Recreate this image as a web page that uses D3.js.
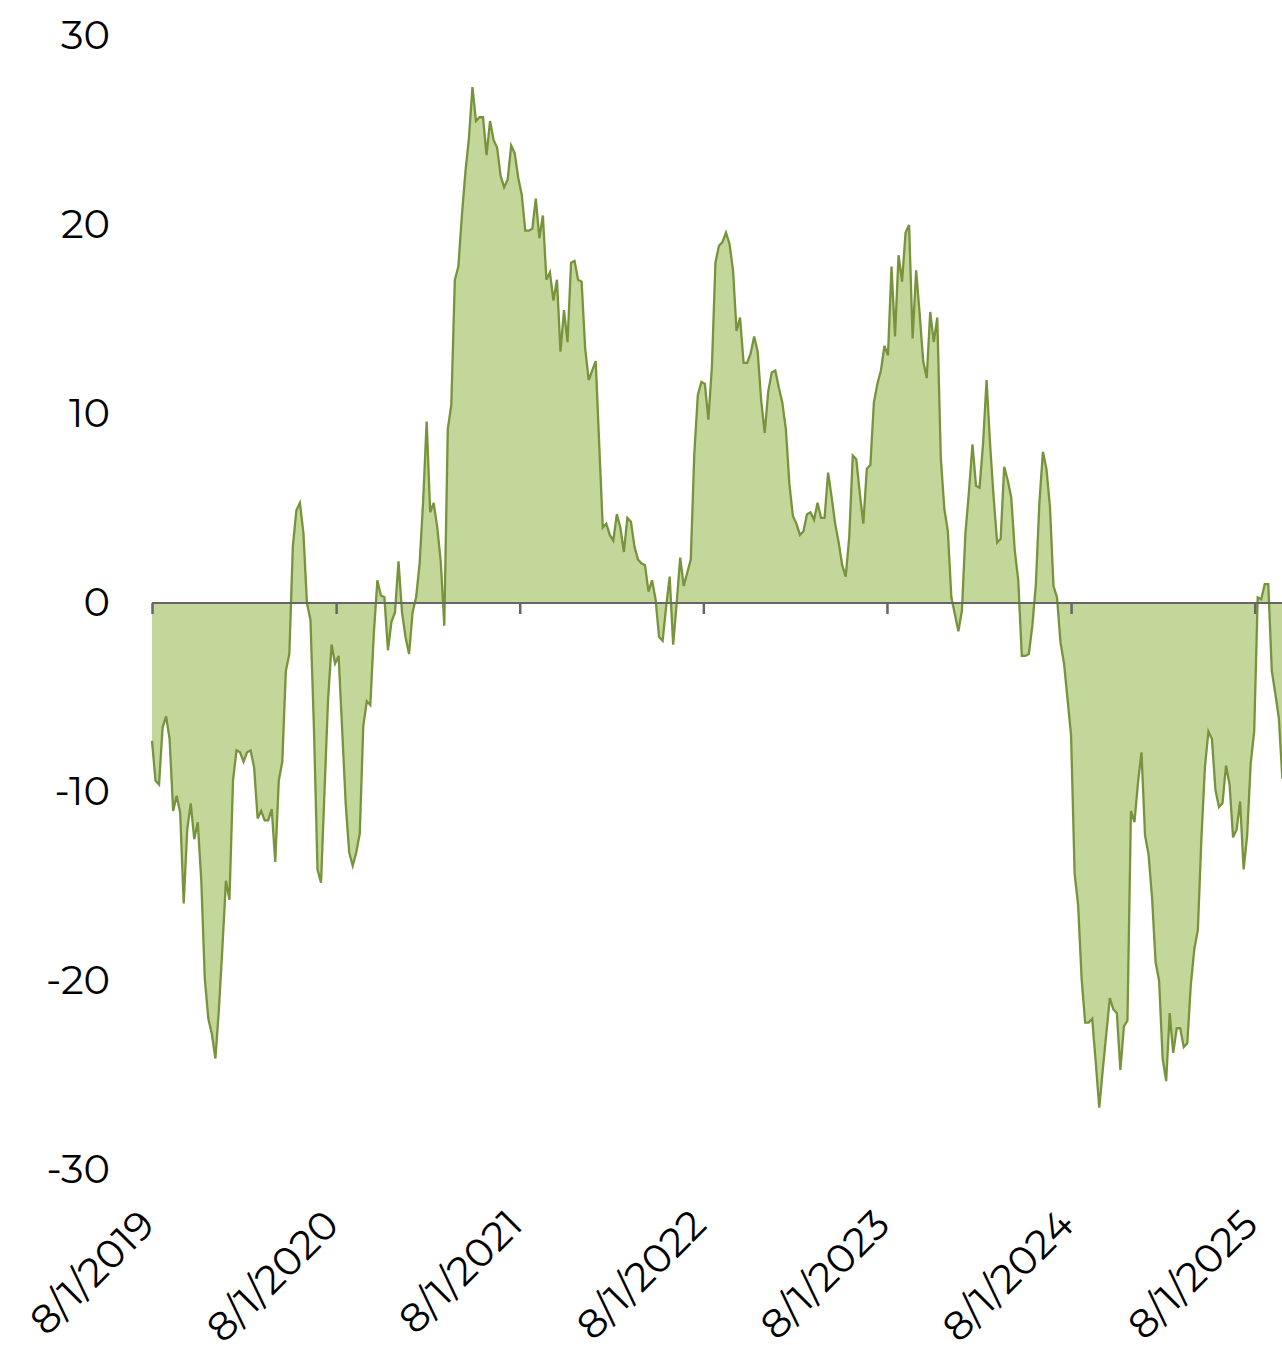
<!DOCTYPE html>
<html>
<head>
<meta charset="utf-8">
<script src="https://cdn.jsdelivr.net/npm/d3@7"></script>
<style>
  body { margin: 0; background: #fff; }
  svg { display: block; font-family: Montserrat, "Noto Sans", sans-serif; }
</style>
</head>
<body>
<svg id="chart" width="1282" height="1345"></svg>
<script>
// weekly series, first week starts 8/1/2019
const startDate = "2019-08-01";
const values = [
  -7.3, -9.4, -9.6, -6.6, -6.0, -7.2, -11.0, -10.2, -11.1, -15.9,
  -12.0, -10.6, -12.5, -11.6, -14.7, -19.9, -22.0, -22.8, -24.1, -21.5,
  -18.2, -14.7, -15.7, -9.4, -7.8, -7.9, -8.4, -7.9, -7.8, -8.7,
  -11.4, -11.0, -11.5, -11.5, -10.9, -13.7, -9.4, -8.4, -3.6, -2.7,
  3.0, 4.9, 5.3, 3.7, 0.0, -0.9, -6.7, -14.1, -14.8, -9.9,
  -5.1, -2.2, -3.2, -2.8, -6.7, -10.6, -13.2, -13.9, -13.2, -12.2,
  -6.5, -5.2, -5.4, -1.6, 1.2, 0.4, 0.3, -2.5, -1.0, -0.5,
  2.2, -0.5, -1.8, -2.7, -0.5, 0.3, 2.1, 5.4, 9.6, 4.8,
  5.3, 4.0, 2.2, -1.2, 9.2, 10.5, 17.1, 17.8, 20.5, 22.8,
  24.6, 27.3, 25.5, 25.7, 25.7, 23.7, 25.5, 24.5, 24.1, 22.6,
  22.0, 22.4, 24.2, 23.8, 22.5, 21.6, 19.7, 19.7, 19.8, 21.4,
  19.3, 20.5, 17.1, 17.5, 16.0, 17.1, 13.3, 15.5, 13.8, 18.0,
  18.1, 17.1, 17.0, 13.5, 11.8, 12.3, 12.8, 8.4, 4.0, 4.2,
  3.6, 3.3, 4.7, 4.0, 2.7, 4.5, 4.3, 3.0, 2.3, 2.1,
  2.0, 0.6, 1.2, 0.2, -1.8, -2.0, -0.2, 1.4, -2.2, 0.0,
  2.4, 0.9, 1.6, 2.3, 7.9, 11.0, 11.7, 11.6, 9.7, 12.5,
  18.0, 18.9, 19.1, 19.6, 19.0, 17.6, 14.4, 15.1, 12.7, 12.7,
  13.2, 14.1, 13.3, 10.7, 9.0, 11.2, 12.2, 12.3, 11.4, 10.6,
  9.2, 6.3, 4.6, 4.2, 3.6, 3.8, 4.7, 4.8, 4.4, 5.3,
  4.5, 4.5, 6.9, 5.6, 4.2, 3.2, 2.0, 1.4, 3.5, 7.8,
  7.6, 5.8, 4.2, 7.1, 7.3, 10.6, 11.6, 12.3, 13.6, 13.1,
  17.8, 14.1, 18.4, 17.0, 19.6, 20.0, 14.0, 17.6, 15.3, 12.8,
  11.9, 15.4, 13.8, 15.1, 7.7, 5.0, 3.8, 0.3, -0.6, -1.5,
  -0.4, 3.7, 5.9, 8.4, 6.2, 6.1, 8.4, 11.8, 8.4, 5.6,
  3.2, 3.4, 7.2, 6.5, 5.6, 2.8, 1.2, -2.8, -2.8, -2.7,
  -1.2, 1.0, 5.3, 8.0, 7.1, 5.1, 0.9, 0.3, -2.1, -3.2,
  -5.1, -7.0, -14.3, -16.0, -19.9, -22.2, -22.2, -22.0, -24.3, -26.7,
  -24.7, -22.8, -20.9, -21.5, -21.7, -24.7, -22.4, -22.1, -11.0, -11.6,
  -9.5, -7.9, -12.3, -13.3, -15.6, -19.0, -20.0, -24.1, -25.3, -21.7,
  -23.8, -22.5, -22.5, -23.5, -23.3, -20.2, -18.3, -17.3, -12.5, -8.7,
  -6.8, -7.2, -9.9, -10.8, -10.6, -8.6, -9.6, -12.4, -12.0, -10.5,
  -14.1, -12.3, -8.5, -6.8, 0.3, 0.2, 1.0, 1.0, -3.6, -4.8,
  -6.1, -9.3
];
const yTicks = [-30, -20, -10, 0, 10, 20, 30];
const xTickDates = ["2019-08-01", "2020-08-01", "2021-08-01", "2022-08-01",
                    "2023-08-01", "2024-08-01", "2025-08-01"];

const width = 1282, height = 1345;
const parse = d3.utcParse("%Y-%m-%d");
const start = parse(startDate);
const data = values.map((v, i) => ({ date: d3.utcDay.offset(start, 7 * i), value: v }));
const tickDates = xTickDates.map(parse);

const x = d3.scaleUtc()
    .domain([tickDates[0], tickDates[tickDates.length - 1]])
    .range([152, 1254.7]);
const y = d3.scaleLinear().domain([-30, 30]).range([1170, 36]);

const svg = d3.select("#chart");

const area = d3.area()
    .x(d => x(d.date))
    .y0(y(0))
    .y1(d => y(d.value));
const line = d3.line()
    .x(d => x(d.date))
    .y(d => y(d.value));

svg.append("path")
    .datum(data)
    .attr("d", area)
    .attr("fill", "#c4d79b");
svg.append("path")
    .datum(data)
    .attr("d", line)
    .attr("fill", "none")
    .attr("stroke", "#77933c")
    .attr("stroke-width", 2.3)
    .attr("stroke-linejoin", "miter");

// zero line with year ticks
svg.append("line")
    .attr("x1", x(tickDates[0])).attr("x2", width)
    .attr("y1", y(0)).attr("y2", y(0))
    .attr("stroke", "#666").attr("stroke-width", 2);
const xAxis = svg.append("g")
    .attr("transform", `translate(0,${y(0)})`)
    .call(d3.axisBottom(x).tickValues(tickDates).tickSize(11).tickFormat(""));
xAxis.select(".domain").remove();
xAxis.selectAll(".tick line").attr("stroke", "#666").attr("stroke-width", 2.5);

// y labels (plain hyphen minus, as in the original)
const yAxis = svg.append("g")
    .attr("transform", "translate(112,0)")
    .call(d3.axisLeft(y).tickValues(yTicks).tickSize(0).tickPadding(2)
        .tickFormat(d => String(d)));
yAxis.select(".domain").remove();
yAxis.selectAll("text")
    .attr("font-size", 40)
    .attr("fill", "#000")
    .attr("font-family", "Montserrat, 'Noto Sans', sans-serif");

// rotated date labels
const fmt = d3.utcFormat("%-m/%-d/%Y");
svg.append("g")
    .selectAll("text")
    .data(tickDates)
    .join("text")
    .attr("transform", d => `translate(${x(d) + 5},1227) rotate(-45)`)
    .attr("text-anchor", "end")
    .attr("font-size", 40)
    .attr("fill", "#000")
    .text(d => fmt(d));
</script>
</body>
</html>
